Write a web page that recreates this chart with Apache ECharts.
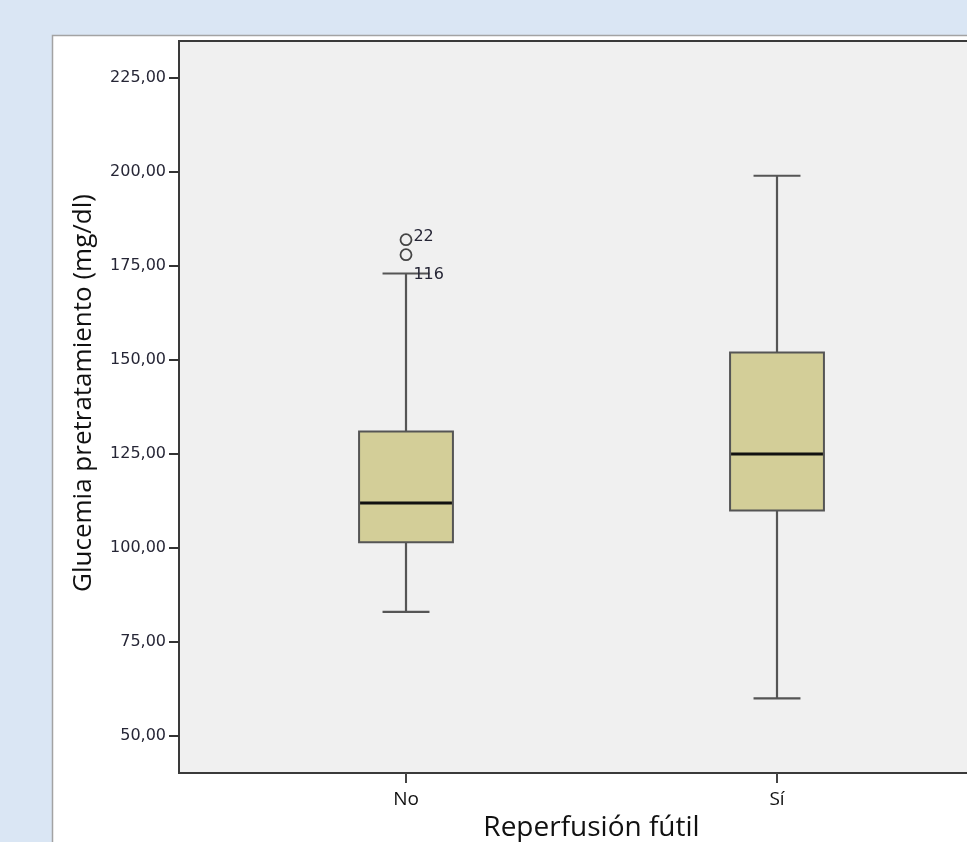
<!DOCTYPE html>
<html>
<head>
<meta charset="utf-8">
<script src="https://cdn.jsdelivr.net/npm/echarts@6/dist/echarts.min.js"></script>
<style>
html,body{margin:0;padding:0;background:#dae6f4;}
#chart{width:967px;height:842px;}
</style>
</head>
<body>
<div id="chart"></div>
<script>
// ---- data ----
const categories = ['No', 'Sí'];
const whiskerLow = [83, 60];
const q1 = [101.5, 110];
const median = [112, 125];
const q3 = [131, 152];
const whiskerHigh = [173, 199];
const outlierCategory = ['No', 'No'];
const outlierValues = [182, 178];
const outlierIds = ['22', '116'];
const yTicks = [50, 75, 100, 125, 150, 175, 200, 225];
const yTitle = 'Glucemia pretratamiento (mg/dl)';
const xTitle = 'Reperfusión fútil';

const Y_MIN = 40.16, Y_MAX = 234.84;
const fmt = v => v.toFixed(2).replace('.', ',');

const chart = echarts.init(document.getElementById('chart'));

const boxData = categories.map((c, i) => [i, whiskerLow[i], q1[i], median[i], q3[i], whiskerHigh[i]]);
const outlierData = outlierValues.map((v, i) => ({
  value: [categories.indexOf(outlierCategory[i]), v, outlierIds[i]],
  label: { offset: i === 0 ? [0, -3] : [0, 20] }
}));

const option = {
  backgroundColor: '#dae6f4',
  animation: false,
  graphic: [{
    type: 'rect', z: -10,
    shape: { x: 52.5, y: 35.5, width: 1000, height: 900 },
    style: { fill: '#ffffff', stroke: '#a3a3a3', lineWidth: 1.5 }
  }],
  grid: [
    { left: 220.5, right: 4.5, top: 41, bottom: 69, containLabel: false, outerBoundsMode: 'none' },
    { left: 179, right: -30, top: 41, bottom: 69, show: true, containLabel: false, outerBoundsMode: 'none',
      backgroundColor: '#f0f0f0', borderColor: '#3a3a3a', borderWidth: 2 }
  ],
  xAxis: [
    { type: 'category', gridIndex: 0, data: categories, boundaryGap: true,
      axisLine: { show: false },
      axisTick: { show: true, alignWithLabel: true, length: 10, lineStyle: { color: '#444', width: 2 } },
      axisLabel: { margin: 17, fontFamily: 'Open Sans', fontSize: 19, color: '#111' },
      name: xTitle, nameLocation: 'middle', nameGap: 32,
      nameTextStyle: { fontFamily: 'Open Sans', fontSize: 28, color: '#111' }
    },
    { type: 'value', gridIndex: 1, show: false, min: 0, max: 1 }
  ],
  yAxis: [
    { type: 'value', gridIndex: 0, min: Y_MIN, max: Y_MAX, show: false },
    { type: 'value', gridIndex: 1, min: Y_MIN, max: Y_MAX,
      axisLine: { show: false },
      splitLine: { show: false },
      axisTick: { show: true, inside: false, length: 10, customValues: yTicks, lineStyle: { color: '#333', width: 2 } },
      axisLabel: { margin: 13, customValues: yTicks, formatter: v => fmt(v),
        fontFamily: 'DejaVu Sans', fontSize: 16, color: '#262636' },
      name: yTitle, nameLocation: 'middle', nameGap: 82, nameRotate: 90,
      nameTextStyle: { fontFamily: 'Open Sans', fontSize: 26, color: '#111', padding: [0, 0, 0, 28] }
    }
  ],
  series: [
    {
      type: 'custom', xAxisIndex: 0, yAxisIndex: 0,
      data: boxData,
      encode: { x: 0, y: [1, 2, 3, 4, 5] },
      renderItem: function (params, api) {
        const xi = api.value(0);
        const band = api.size([1, 0])[0];
        const boxW = band * 0.253;
        const capW = boxW * 0.5;
        const pLow = api.coord([xi, api.value(1)]);
        const pQ1 = api.coord([xi, api.value(2)]);
        const pMed = api.coord([xi, api.value(3)]);
        const pQ3 = api.coord([xi, api.value(4)]);
        const pHigh = api.coord([xi, api.value(5)]);
        const cx = pLow[0];
        const lineSt = { stroke: '#555', lineWidth: 2.2 };
        return {
          type: 'group',
          children: [
            { type: 'line', shape: { x1: cx, y1: pQ3[1], x2: cx, y2: pHigh[1] }, style: lineSt },
            { type: 'line', shape: { x1: cx, y1: pQ1[1], x2: cx, y2: pLow[1] }, style: lineSt },
            { type: 'line', shape: { x1: cx - capW / 2, y1: pHigh[1], x2: cx + capW / 2, y2: pHigh[1] }, style: lineSt },
            { type: 'line', shape: { x1: cx - capW / 2, y1: pLow[1], x2: cx + capW / 2, y2: pLow[1] }, style: lineSt },
            { type: 'rect', shape: { x: cx - boxW / 2, y: pQ3[1], width: boxW, height: pQ1[1] - pQ3[1] },
              style: { fill: '#d3ce98', stroke: '#555', lineWidth: 2 } },
            { type: 'line', shape: { x1: cx - boxW / 2 + 1, y1: pMed[1], x2: cx + boxW / 2 - 1, y2: pMed[1] },
              style: { stroke: '#111', lineWidth: 3 } }
          ]
        };
      }
    },
    {
      type: 'scatter', xAxisIndex: 0, yAxisIndex: 0,
      symbol: 'circle', symbolSize: 11,
      itemStyle: { color: '#f0f0f0', borderColor: '#444', borderWidth: 1.8, opacity: 1 },
      data: outlierData,
      label: { show: true, position: 'right', distance: 1, formatter: p => p.value[2],
        fontFamily: 'DejaVu Sans', fontSize: 16, color: '#262636' },
      z: 5
    }
  ]
};
chart.setOption(option);
</script>
</body>
</html>
